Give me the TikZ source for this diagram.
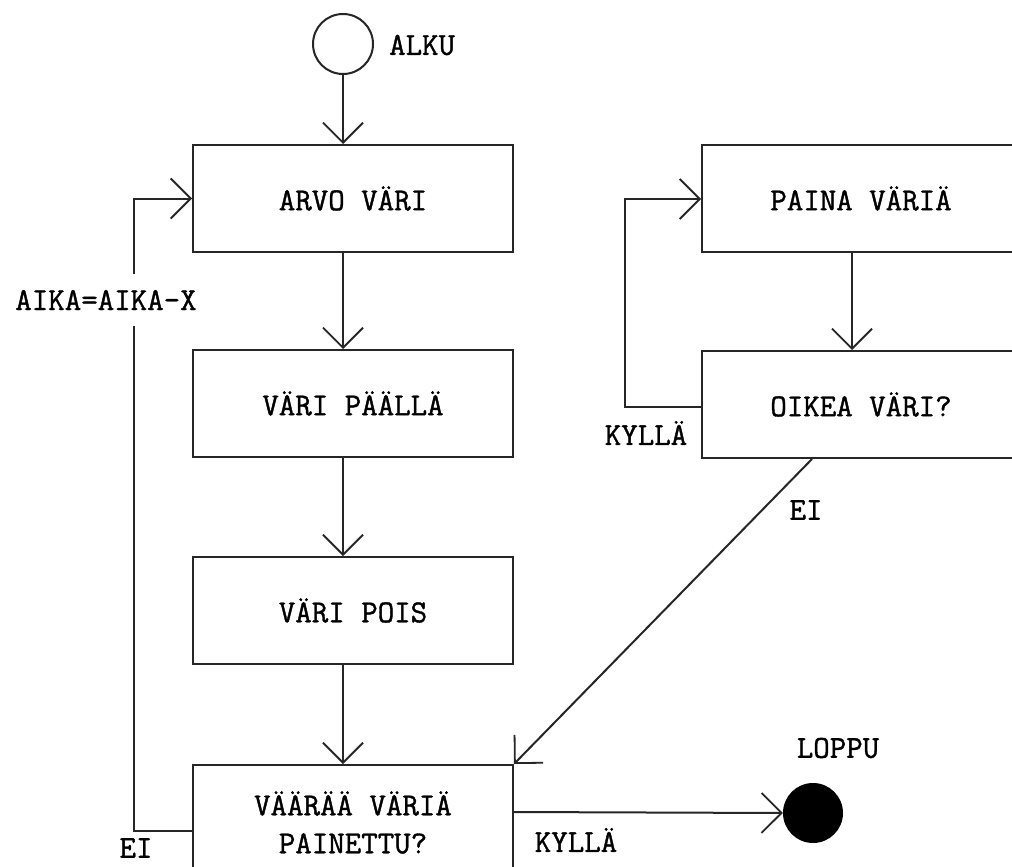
\documentclass[tikz,border=0pt]{standalone}
\usepackage{fontspec}
\newfontfamily\dfont{Latin Modern Mono}[FakeBold=1.2]
\usetikzlibrary{arrows.meta,positioning,calc}
\tikzset{
  flow/.style={draw=black!85, line width=2pt, rectangle, inner sep=0pt,
    font=\dfont\fontsize{32}{38}\selectfont, align=center},
  conn/.style={draw=black!85, line width=2pt,
    -{Straight Barb[length=20pt,width=40pt,line width=1.8pt]}},
  lbl/.style={font=\dfont\fontsize{32}{38}\selectfont, inner sep=1pt},
}
\begin{document}
\begin{tikzpicture}[x=1pt,y=-1pt]
\useasboundingbox (0,0) rectangle (1012,867);
\clip (0,0) rectangle (1012,867);
\fill[white] (0,0) rectangle (1012,867);

% start / end
\node[circle, draw=black!85, line width=2pt, minimum size=60pt, inner sep=0pt] (alku) at (343,44) {};
\node[lbl, anchor=west] (alkut) at (388,45) {ALKU};
\node[circle, fill=black, minimum size=60pt, inner sep=0pt] (loppu) at (813,813) {};
\node[lbl] (loppot) at (838,748) {LOPPU};

% boxes
\node[flow, minimum width=320pt, minimum height=107pt] (arvo) at (353,198.5) {ARVO VÄRI};
\node[flow, minimum width=320pt, minimum height=107pt] (paalla) at (353,403.5) {VÄRI PÄÄLLÄ};
\node[flow, minimum width=320pt, minimum height=107pt] (pois) at (353,610.5) {VÄRI POIS};
\node[flow, minimum width=320pt, minimum height=115pt] (vaaraa) at (353,822.5) {VÄÄRÄÄ VÄRIÄ\\PAINETTU?};
\node[flow, minimum width=318pt, minimum height=107pt] (paina) at (861,198.5) {PAINA VÄRIÄ};
\node[flow, minimum width=318pt, minimum height=107pt] (oikea) at (861,404.5) {OIKEA VÄRI?};

\coordinate (ax) at (343,0);
\coordinate (bx) at (852,0);

% main chain
\draw[conn] (alku.south) -- (ax |- arvo.north);
\draw[conn] (ax |- arvo.south) -- (ax |- paalla.north);
\draw[conn] (ax |- paalla.south) -- (ax |- pois.north);
\draw[conn] (ax |- pois.south) -- (ax |- vaaraa.north);
\draw[conn] (bx |- paina.south) -- (bx |- oikea.north);

% right loop (KYLLÄ)
\draw[conn] ([yshift=-2.5pt]oikea.west) -- ++(-76,0) |- ([yshift=-0.5pt]paina.west);
\node[lbl] (kylla1) at (646,433) {KYLLÄ};

% left loop (EI)
\draw[conn] ([yshift=-8.5pt]vaaraa.west) -- ++(-58,0) |- (arvo.west);
\node[lbl, fill=white, inner ysep=16pt] (aika) at (106,300) {AIKA=AIKA-X};
\node[lbl] (ei1) at (136,848) {EI};

% diagonal (EI)
\draw[conn] ([xshift=111pt]oikea.south west) -- (vaaraa.north east);
\node[lbl] (ei2) at (806,510) {EI};

% to end (KYLLÄ)
\draw[conn] ([yshift=10.5pt]vaaraa.east) -- (loppu.west);
\node[lbl] (kylla2) at (576,840) {KYLLÄ};
\end{tikzpicture}
\end{document}
